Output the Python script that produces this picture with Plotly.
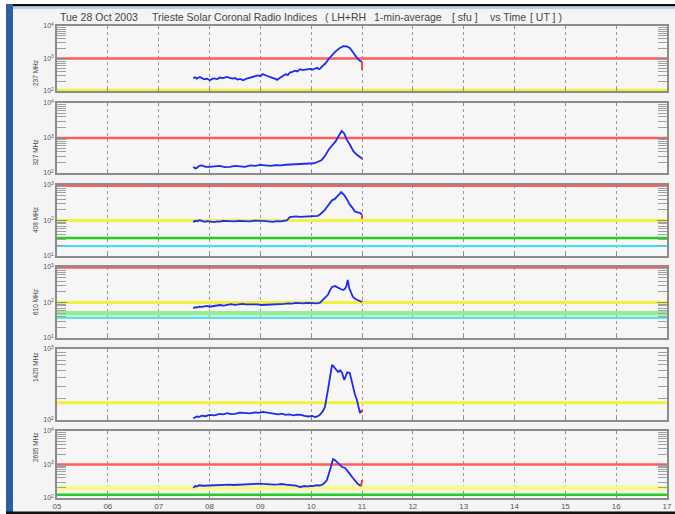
import plotly.graph_objects as go

# ---------------- data ----------------
freqs = ["237 MHz", "327 MHz", "408 MHz", "610 MHz", "1420 MHz", "2695 MHz"]
y_decades = [(2, 4), (2, 4), (1, 3), (1, 3), (2, 3), (2, 4)]

t_237 = [7.68, 7.72, 7.75, 7.78, 7.81, 7.86, 7.90, 7.95, 8.01, 8.05, 8.10, 8.15, 8.20, 8.27, 8.34, 8.40, 8.45,
         8.50, 8.55, 8.60, 8.66, 8.73, 8.80, 8.88, 8.95, 9.00, 9.05, 9.10, 9.15, 9.20, 9.25, 9.30, 9.33, 9.38,
         9.42, 9.46, 9.50, 9.54, 9.58, 9.63, 9.68, 9.73, 9.78, 9.83, 9.88, 9.93, 9.98, 10.03, 10.08, 10.12,
         10.15, 10.18, 10.21, 10.25, 10.28, 10.34, 10.40, 10.47, 10.55, 10.63, 10.70, 10.76, 10.83, 10.90,
         10.96, 11.00]
v_237 = [250, 265, 240, 255, 270, 245, 230, 240, 215, 235, 245, 230, 260, 250, 270, 255, 240,
         250, 225, 235, 215, 240, 260, 280, 300, 285, 330, 305, 290, 270, 250, 235, 220, 250,
         280, 300, 330, 310, 370, 390, 420, 400, 470, 440, 450, 470, 480, 455, 500, 520,
         470, 490, 560, 620, 700, 950, 1250, 1600, 2050, 2400, 2350, 2100, 1500, 1050,
         850, 780]

t_327 = [7.68, 7.72, 7.75, 7.80, 7.85, 7.92, 8.0, 8.1, 8.2, 8.3, 8.4, 8.5, 8.6, 8.7, 8.8, 8.9, 9.0, 9.1, 9.2,
         9.3, 9.4, 9.5, 9.6, 9.7, 9.8, 9.9, 10.0, 10.05, 10.1, 10.15, 10.2, 10.24, 10.28, 10.35,
         10.42, 10.48, 10.55, 10.6, 10.65, 10.7, 10.76, 10.83, 10.9, 10.96, 11.0]
v_327 = [150, 135, 140, 160, 165, 150, 150, 158, 160, 148, 150, 160, 155, 150, 165, 160, 170, 162, 160,
         168, 165, 172, 175, 170, 180, 178, 185, 190, 200, 215, 230, 270, 320, 480,
         650, 800, 1200, 1600, 1350, 900, 650, 420, 330, 280, 260]

t_408 = [7.68, 7.72, 7.76, 7.80, 7.85, 7.90, 7.95, 8.0, 8.05, 8.1, 8.15, 8.2, 8.27, 8.35, 8.42, 8.5, 8.57,
         8.65, 8.72, 8.8, 8.88, 8.95, 9.02, 9.1, 9.17, 9.25, 9.32, 9.4, 9.46, 9.52, 9.58, 9.64, 9.7, 9.78,
         9.85, 9.92, 10.0, 10.07, 10.13, 10.18, 10.23, 10.27, 10.31, 10.36, 10.41, 10.46, 10.51, 10.55,
         10.59, 10.65, 10.71, 10.76, 10.81, 10.86, 10.91, 10.96, 11.0]
v_408 = [90, 98, 95, 102, 97, 92, 96, 95, 91, 90, 94, 93, 98, 96, 92, 94, 98,
         97, 93, 95, 99, 100, 97, 96, 92, 92, 96, 94, 98, 100, 125, 128, 130, 126,
         128, 131, 132, 130, 135, 150, 175, 200, 240, 300, 370, 400, 460, 540,
         630, 520, 380, 280, 230, 180, 170, 165, 145]

t_610 = [7.68, 7.72, 7.75, 7.80, 7.85, 7.90, 7.95, 8.0, 8.05, 8.13, 8.21, 8.28, 8.35, 8.42, 8.5, 8.57, 8.65,
         8.72, 8.8, 8.88, 8.95, 9.02, 9.1, 9.17, 9.25, 9.32, 9.4, 9.47, 9.55, 9.62, 9.7, 9.77, 9.85, 9.92,
         10.0, 10.07, 10.13, 10.18, 10.23, 10.28, 10.33, 10.37, 10.41, 10.47, 10.53, 10.58, 10.63, 10.66,
         10.69, 10.72, 10.75, 10.78, 10.82, 10.87, 10.92, 10.96, 11.0]
v_610 = [68, 74, 72, 76, 75, 79, 80, 76, 78, 83, 85, 82, 88, 90, 86, 88, 92,
         89, 90, 87, 88, 85, 86, 83, 84, 87, 88, 91, 95, 93, 97, 94, 94, 98,
         96, 92, 95, 100, 117, 135, 165, 220, 275, 290, 255, 240, 225, 240,
         280, 430, 250, 190, 145, 125, 115, 108, 103]

t_1420 = [7.68, 7.72, 7.75, 7.80, 7.85, 7.92, 8.0, 8.1, 8.2, 8.27, 8.35, 8.42, 8.5, 8.6, 8.7, 8.8, 8.9, 8.97,
          9.05, 9.12, 9.2, 9.27, 9.35, 9.42, 9.5, 9.57, 9.65, 9.72, 9.8, 9.87, 9.95, 10.02, 10.08, 10.13, 10.17,
          10.22, 10.27, 10.33, 10.38, 10.41, 10.44, 10.47, 10.5, 10.53, 10.57, 10.61, 10.65, 10.68, 10.71,
          10.76, 10.82, 10.86, 10.9, 10.96, 11.0]
v_1420 = [105, 110, 112, 111, 115, 113, 118, 116, 122, 120, 125, 121, 122, 127, 126, 124, 128, 126,
          130, 127, 125, 123, 120, 123, 118, 120, 116, 119, 118, 114, 112, 114, 110, 113, 118,
          130, 152, 265, 450, 595, 570, 540, 500, 474, 500, 460, 366, 420, 470,
          460, 292, 230, 191, 125, 138]

t_2695 = [7.68, 7.72, 7.76, 7.8, 7.87, 7.95, 8.02, 8.1, 8.17, 8.25, 8.32, 8.4, 8.47, 8.55, 8.62, 8.7, 8.8, 8.93,
          9.0, 9.05, 9.12, 9.2, 9.27, 9.35, 9.42, 9.5, 9.58, 9.64, 9.7, 9.78, 9.83, 9.88, 9.93, 9.98, 10.04,
          10.1, 10.16, 10.21, 10.26, 10.31, 10.37, 10.43, 10.47, 10.51, 10.56, 10.61, 10.67, 10.72, 10.77,
          10.82, 10.87, 10.92, 10.98]
v_2695 = [200, 228, 222, 240, 232, 235, 242, 245, 236, 240, 246, 250, 244, 248, 252, 255, 262, 280,
          270, 265, 258, 260, 250, 255, 262, 250, 245, 240, 235, 213, 222, 228, 220, 230, 226,
          240, 236, 245, 280, 345, 685, 1460, 1350, 1190, 1000, 840, 790, 600, 500,
          395, 320, 262, 228]

times = [t_237, t_327, t_408, t_610, t_1420, t_2695]
values = [v_237, v_327, v_408, v_610, v_1420, v_2695]

# last-sample marks (red) at end of each record: (t0, v0, t1, v1)
end_marks = [(11.0, 780, 11.0, 440), (11.0, 260, 11.0, 240), (11.0, 145, 11.0, 110),
             (11.0, 103, 11.0, 112), (11.0, 138, 11.0, 128), (10.98, 228, 11.0, 345)]

# reference levels per panel: (sfu, kind)
levels = [
    [(1000, "red"), (106, "yellow")],
    [(1000, "red")],
    [(960, "red"), (100, "yellow"), (32, "green"), (19, "cyan")],
    [(970, "red"), (100, "yellow"), (50, "lightgreen"), (37, "cyan")],
    [(175, "yellow")],
    [(1000, "red"), (200, "paleyellow"), (124, "green")],
]

hours = list(range(5, 18))
hour_labels = ["%02d" % h for h in hours]

title_parts = ["Tue 28 Oct 2003", "Trieste Solar Coronal Radio Indices", "( LH+RH",
               "1-min-average", "[ sfu ]", "vs Time", "[ UT ] )"]

# ---------------- styling ----------------
W, H = 675, 514
FONT = "Liberation Sans, Arial, sans-serif"
level_style = {
    "red": ("#ff5c5c", 2.5),
    "yellow": ("#f2f23c", 3),
    "paleyellow": ("#f8f890", 5),
    "green": ("#22d022", 2.5),
    "lightgreen": ("#98ec98", 4.5),
    "cyan": ("#3ee2e8", 2),
}
panel_px = [(26, 91), (103, 173), (185, 256), (267, 338), (349, 420), (431, 498)]
x_px = (57, 667)
title_x_px = [58, 150, 323, 372, 450, 488, 528]


def px(x):
    return x / W


def py(y):
    return 1 - y / H


fig = go.Figure()
for i in range(6):
    n = i + 1
    xa = "x" if n == 1 else "x%d" % n
    ya = "y" if n == 1 else "y%d" % n
    for lv, kind in levels[i]:
        c, w = level_style[kind]
        fig.add_trace(go.Scatter(x=[hours[0], hours[-1]], y=[lv, lv], mode="lines",
                                 line=dict(color=c, width=w), xaxis=xa, yaxis=ya, hoverinfo="skip"))
    fig.add_trace(go.Scatter(x=times[i], y=values[i], mode="lines",
                             line=dict(color="#1f2bf0", width=1.8), xaxis=xa, yaxis=ya))
    t0, v0, t1, v1 = end_marks[i]
    fig.add_trace(go.Scatter(x=[t0, t1], y=[v0, v1], mode="lines",
                             line=dict(color="#ff3030", width=1.8), xaxis=xa, yaxis=ya))

    lo, hi = y_decades[i]
    major = [10 ** k for k in range(lo, hi + 1)]
    minor = [m * 10 ** k for k in range(lo, hi) for m in range(2, 10)]
    top, bot = panel_px[i]
    dom_y = [py(bot), py(top)]
    fig.update_layout(**{
        ("xaxis" if n == 1 else "xaxis%d" % n): dict(
            domain=[px(x_px[0]), px(x_px[1])], range=[hours[0], hours[-1]], anchor=ya,
            showgrid=True, gridcolor="#9a9a9a", griddash="dot", gridwidth=1,
            showline=True, linecolor="#8c8c8c", linewidth=1.5, mirror="allticks",
            ticks="inside", ticklen=3, tickcolor="#8c8c8c",
            tickmode="array", tickvals=hours, ticktext=hour_labels,
            showticklabels=(n == 6), tickfont=dict(family=FONT, size=8, color="#555"),
            zeroline=False, fixedrange=True),
        ("yaxis" if n == 1 else "yaxis%d" % n): dict(
            domain=dom_y, type="log", range=[lo, hi], anchor=xa,
            showgrid=False, showline=True, linecolor="#8c8c8c", linewidth=1.5, mirror="allticks",
            ticks="inside", ticklen=10, tickcolor="#8a8a8a", tickwidth=1.2,
            tickmode="array", tickvals=major,
            ticktext=["10<sup>%d</sup>" % k for k in range(lo, hi + 1)],
            tickfont=dict(family=FONT, size=7, color="#555"),
            minor=dict(tickmode="array", tickvals=minor, ticks="inside", ticklen=9,
                       tickcolor="#a0a0a0", tickwidth=1.2),
            zeroline=False, fixedrange=True),
    })

annotations = []
for i in range(6):
    top, bot = panel_px[i]
    annotations.append(dict(x=px(30), y=py((top + bot) / 2), xref="paper", yref="paper",
                            text=freqs[i], textangle=-90, showarrow=False,
                            font=dict(family=FONT, size=6.5, color="#444")))
for tx, s in zip(title_x_px, title_parts):
    annotations.append(dict(x=px(tx), y=py(17), xref="paper", yref="paper", text=s,
                            xanchor="left", yanchor="middle", showarrow=False,
                            font=dict(family=FONT, size=10.5, color="#444")))

shapes = [
    dict(type="rect", xref="paper", yref="paper", x0=0, x1=1, y0=py(4), y1=1,
         fillcolor="white", line_width=0),
    dict(type="rect", xref="paper", yref="paper", x0=0, x1=px(6), y0=0, y1=1,
         fillcolor="white", line_width=0),
    dict(type="rect", xref="paper", yref="paper", x0=px(6), x1=1, y0=py(6.5), y1=py(4),
         fillcolor="#111", line_width=0),
    dict(type="rect", xref="paper", yref="paper", x0=px(13), x1=1, y0=py(9), y1=py(6.5),
         fillcolor="#b9d1ee", line_width=0),
    dict(type="rect", xref="paper", yref="paper", x0=px(6), x1=px(13), y0=0, y1=py(4),
         fillcolor="#2e5e9e", line_width=0),
    dict(type="rect", xref="paper", yref="paper", x0=px(6), x1=1, y0=0, y1=py(511.5),
         fillcolor="#111", line_width=0),
]

fig.update_layout(width=W, height=H, margin=dict(l=0, r=0, t=0, b=0, autoexpand=False),
                  paper_bgcolor="#f4f4f4", plot_bgcolor="#f6f6f6", showlegend=False,
                  annotations=annotations, shapes=shapes, hovermode=False)

fig.write_html("out.html")
